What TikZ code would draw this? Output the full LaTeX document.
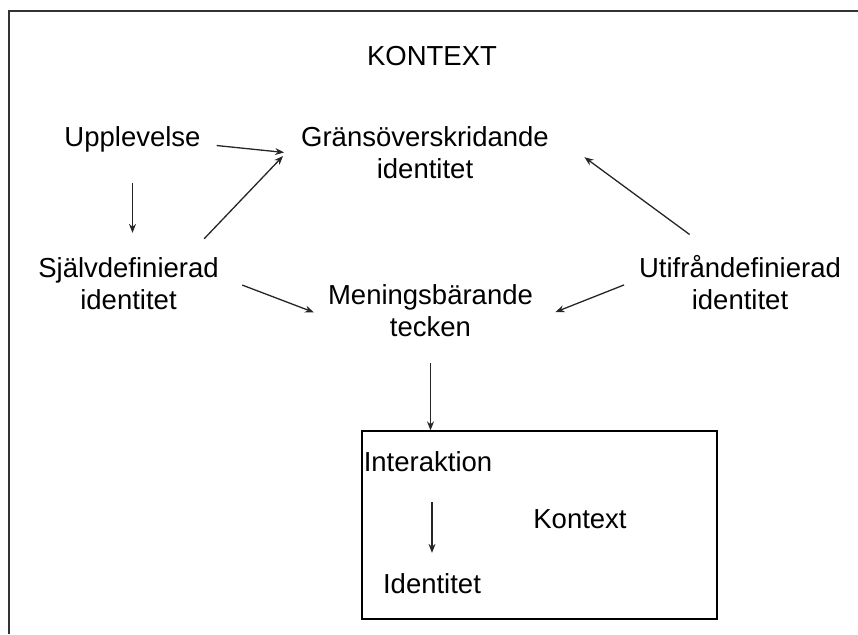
\documentclass[tikz,border=0pt]{standalone}
\usepackage{fontspec}
\setmainfont{Liberation Sans}
\usepackage{tikz}
\usetikzlibrary{arrows.meta}

\begin{document}
\begin{tikzpicture}[x=1pt,y=-1pt,
  txt/.style={inner sep=0pt,anchor=base,align=center,font=\fontsize{27.5}{32}\selectfont},
  pil/.style={-{Stealth[length=9pt,width=7pt]},line width=1.3pt,black!85}]
\useasboundingbox (0,0) rectangle (858,634);
\draw[line width=1.6pt,black!80] (858,11) -- (9,11) -- (9,634);

\draw (432,66) node[txt] (K0) {KONTEXT};
\draw (132.5,146) node[txt] (U1) {Upplevelse} (425,178) node[txt] (G1) {Gränsöverskridande\\identitet};
\draw (128.5,309) node[txt] (S1) {Självdefinierad\\identitet} (430.5,336) node[txt] (M1) {Meningsbärande\\tecken} (740,309) node[txt] (Y1) {Utifråndefinierad\\identitet};

\node (Q0)[draw=black,line width=1.3pt,inner sep=0pt,minimum width=355pt,minimum height=188pt] at (539.5,525) {};
\draw (428,471) node[txt] (I1) {Interaktion} (432,593) node[txt] (I2) {Identitet} (580,528) node[txt] (K1) {Kontext};

\draw[pil,shorten <=16pt,shorten >=17pt] ([yshift=-5pt]U1.east)--([yshift=-2pt]G1.west);
\draw[pil,shorten <=25pt,shorten >=26pt] ([xshift=-32pt]S1.north east)--([yshift=15pt]G1.west);
\draw[pil,shorten <=31pt,shorten >=24pt] (U1.south)--(U1.south |- S1.north);
\draw[pil,shorten <=25pt,shorten >=15pt] ([yshift=7pt]S1.east)--([yshift=-7.5pt]M1.west);
\draw[pil,shorten <=34pt,shorten >=44pt] ([xshift=-23pt]Y1.north)--([yshift=21pt]G1.east);
\draw[pil,shorten <=16pt,shorten >=24pt] ([yshift=3pt]Y1.west)--([yshift=-10.7pt]M1.east);
\draw[pil,shorten <=27pt] (M1.south)--(M1.south |- Q0.north);
\draw[pil,shorten <=31pt,shorten >=20pt] (I2.north |- I1.south)--(I2.north);
\end{tikzpicture}
\end{document}
